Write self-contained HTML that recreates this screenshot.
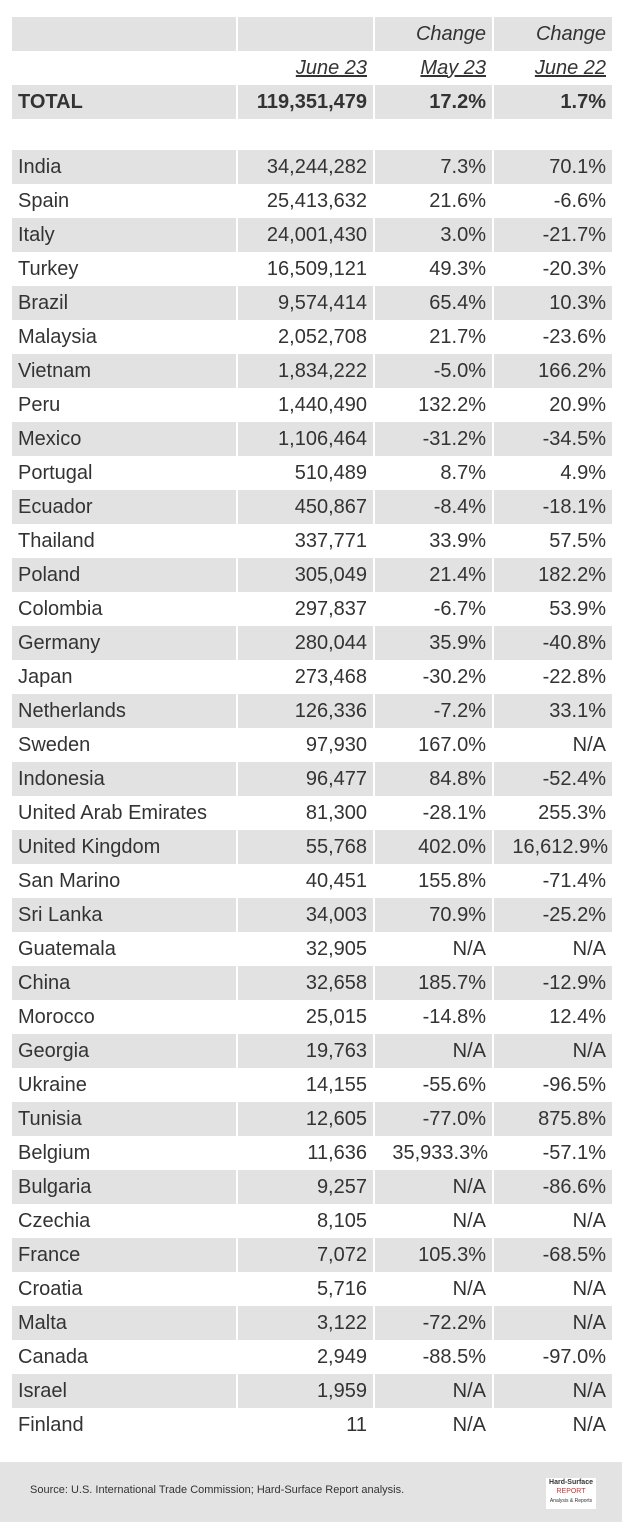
<!DOCTYPE html>
<html><head><meta charset="utf-8"><style>
body{margin:0;width:622px;height:1522px;background:#fff;font-family:"Liberation Sans",sans-serif;color:#333;position:relative;overflow:hidden}
table{position:absolute;left:12px;top:17px;border-collapse:collapse;table-layout:fixed}
td{height:34px;padding:0 6px;font-size:20px;text-align:right;border-left:2px solid #fff;white-space:nowrap;overflow:visible}
td:first-child{text-align:left;border-left:none}
tr.s td{background:#e2e2e2}
.h td{font-style:italic}
.u{text-decoration:underline}
.b td{font-weight:bold}
.foot{position:absolute;left:0;top:1462px;width:622px;height:60px;background:#e3e3e3}
.src{position:absolute;left:30px;top:22px;font-size:11px;color:#333}
.logo{position:absolute;left:546px;top:16px;width:50px;height:31px;background:#fff;font-size:7px;text-align:center;line-height:9px}
</style></head><body>
<table>
<colgroup><col style="width:225px"><col style="width:137px"><col style="width:119px"><col style="width:119px"></colgroup>
<tr class="s h"><td></td><td></td><td>Change</td><td>Change</td></tr>
<tr class="h"><td></td><td class="u">June 23</td><td class="u">May 23</td><td class="u">June 22</td></tr>
<tr class="s b"><td>TOTAL</td><td>119,351,479</td><td>17.2%</td><td>1.7%</td></tr>
<tr><td style="height:31px"></td><td style="height:31px"></td><td style="height:31px"></td><td style="height:31px"></td></tr>
<tr class="s"><td>India</td><td>34,244,282</td><td>7.3%</td><td>70.1%</td></tr>
<tr><td>Spain</td><td>25,413,632</td><td>21.6%</td><td>-6.6%</td></tr>
<tr class="s"><td>Italy</td><td>24,001,430</td><td>3.0%</td><td>-21.7%</td></tr>
<tr><td>Turkey</td><td>16,509,121</td><td>49.3%</td><td>-20.3%</td></tr>
<tr class="s"><td>Brazil</td><td>9,574,414</td><td>65.4%</td><td>10.3%</td></tr>
<tr><td>Malaysia</td><td>2,052,708</td><td>21.7%</td><td>-23.6%</td></tr>
<tr class="s"><td>Vietnam</td><td>1,834,222</td><td>-5.0%</td><td>166.2%</td></tr>
<tr><td>Peru</td><td>1,440,490</td><td>132.2%</td><td>20.9%</td></tr>
<tr class="s"><td>Mexico</td><td>1,106,464</td><td>-31.2%</td><td>-34.5%</td></tr>
<tr><td>Portugal</td><td>510,489</td><td>8.7%</td><td>4.9%</td></tr>
<tr class="s"><td>Ecuador</td><td>450,867</td><td>-8.4%</td><td>-18.1%</td></tr>
<tr><td>Thailand</td><td>337,771</td><td>33.9%</td><td>57.5%</td></tr>
<tr class="s"><td>Poland</td><td>305,049</td><td>21.4%</td><td>182.2%</td></tr>
<tr><td>Colombia</td><td>297,837</td><td>-6.7%</td><td>53.9%</td></tr>
<tr class="s"><td>Germany</td><td>280,044</td><td>35.9%</td><td>-40.8%</td></tr>
<tr><td>Japan</td><td>273,468</td><td>-30.2%</td><td>-22.8%</td></tr>
<tr class="s"><td>Netherlands</td><td>126,336</td><td>-7.2%</td><td>33.1%</td></tr>
<tr><td>Sweden</td><td>97,930</td><td>167.0%</td><td>N/A</td></tr>
<tr class="s"><td>Indonesia</td><td>96,477</td><td>84.8%</td><td>-52.4%</td></tr>
<tr><td>United Arab Emirates</td><td>81,300</td><td>-28.1%</td><td>255.3%</td></tr>
<tr class="s"><td>United Kingdom</td><td>55,768</td><td>402.0%</td><td style="padding-right:4px">16,612.9%</td></tr>
<tr><td>San Marino</td><td>40,451</td><td>155.8%</td><td>-71.4%</td></tr>
<tr class="s"><td>Sri Lanka</td><td>34,003</td><td>70.9%</td><td>-25.2%</td></tr>
<tr><td>Guatemala</td><td>32,905</td><td>N/A</td><td>N/A</td></tr>
<tr class="s"><td>China</td><td>32,658</td><td>185.7%</td><td>-12.9%</td></tr>
<tr><td>Morocco</td><td>25,015</td><td>-14.8%</td><td>12.4%</td></tr>
<tr class="s"><td>Georgia</td><td>19,763</td><td>N/A</td><td>N/A</td></tr>
<tr><td>Ukraine</td><td>14,155</td><td>-55.6%</td><td>-96.5%</td></tr>
<tr class="s"><td>Tunisia</td><td>12,605</td><td>-77.0%</td><td>875.8%</td></tr>
<tr><td>Belgium</td><td>11,636</td><td style="padding-right:4px">35,933.3%</td><td>-57.1%</td></tr>
<tr class="s"><td>Bulgaria</td><td>9,257</td><td>N/A</td><td>-86.6%</td></tr>
<tr><td>Czechia</td><td>8,105</td><td>N/A</td><td>N/A</td></tr>
<tr class="s"><td>France</td><td>7,072</td><td>105.3%</td><td>-68.5%</td></tr>
<tr><td>Croatia</td><td>5,716</td><td>N/A</td><td>N/A</td></tr>
<tr class="s"><td>Malta</td><td>3,122</td><td>-72.2%</td><td>N/A</td></tr>
<tr><td>Canada</td><td>2,949</td><td>-88.5%</td><td>-97.0%</td></tr>
<tr class="s"><td>Israel</td><td>1,959</td><td>N/A</td><td>N/A</td></tr>
<tr><td>Finland</td><td>11</td><td>N/A</td><td>N/A</td></tr>
</table>
<div class="foot"><div class="src">Source: U.S. International Trade Commission; Hard-Surface Report analysis.</div>
<div class="logo"><b>Hard-Surface</b><br><span style="color:#c33">REPORT</span><br><span style="font-size:5px">Analysis &amp; Reports</span></div></div>
</body></html>
